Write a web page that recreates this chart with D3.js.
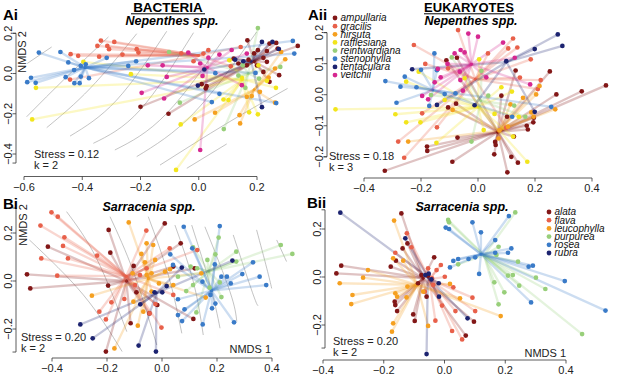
<!DOCTYPE html>
<html><head><meta charset="utf-8">
<script src="https://cdn.jsdelivr.net/npm/d3@7"></script>
<style>body{margin:0;background:#fff}svg{display:block}text{font-family:"Liberation Sans",Arial,Helvetica,sans-serif}</style>
</head><body>
<script>
// ---------- DATA ----------
const nepSpecies = ["ampullaria","gracilis","hirsuta","rafflesiana","reintwardiana","stenophylla","tentaculara","veitchii"];
const nepColors  = ["#821717","#e8604a","#f5a020","#f2e51c","#98cf7a","#3a7bc8","#1c2370","#d62890"];
const sarSpecies = ["alata","flava","leucophylla","purpurea","rosea","rubra"];
const sarColors  = ["#821717","#e8604a","#f5a020","#98cf7a","#3a7bc8","#1c2370"];
const statsAi = ["Stress = 0.12","k = 2"];
const statsAii = ["Stress = 0.18","k = 3"];
const statsBi = ["Stress = 0.20","k = 2"];
const statsBii = ["Stress = 0.20","k = 2"];
const ticksAx = [-0.6,-0.4,-0.2,0.0,0.2], ticksAy = [-0.4,-0.2,0.0,0.2];
const ticksAiix = [-0.4,-0.2,0.0,0.2,0.4], ticksAiiy = [-0.2,-0.1,0.0,0.1,0.2];
const ticksBx = [-0.4,-0.2,0.0,0.2,0.4], ticksBy = [-0.2,0.0,0.2];

// Ai: bacteria, Nepenthes (groups in nepSpecies order)
const pointsAi = [
 [[0.167,0.165],[0.243,0.149],[0.266,0.152],[0.271,0.124],[0.234,0.112],[0.203,0.116],[0.222,0.078],[0.171,0.069],[0.136,0.050],[0.165,0.041],[0.234,0.058],[0.222,0.008],[0.243,-0.041],[0.276,-0.008],[0.340,0.137],[0.19,0.10],[0.2,0.04],[0.01,-0.053],[0.027,-0.063],[0.024,-0.074],[-0.2,-0.165],[-0.104,-0.2],[0.12,0.074]],
 [[-0.336,0.164],[-0.348,0.137],[-0.314,0.137],[-0.29,0.157],[-0.308,0.121],[-0.342,0.084],[-0.414,0.088],[-0.44,0.096],[-0.262,0.094],[-0.213,0.121],[-0.207,0.104],[-0.442,-0.03],[-0.018,0.061],[0.016,0.099],[0.033,0.116],[0.144,0.132],[0.11,0.036],[-0.06,0.1]],
 [[0.283,0.107],[0.297,0.071],[0.262,0.025],[0.182,-0.112],[0.21,-0.091],[0.14,-0.207],[0.142,-0.248],[0.262,-0.145],[-0.014,-0.228],[0.056,-0.195],[0.165,-0.116],[0.24,-0.02]],
 [[-0.396,0.058],[-0.559,-0.071],[-0.572,-0.228],[-0.233,-0.003],[-0.062,-0.253],[-0.078,-0.479],[0.105,0.066],[0.085,-0.129],[0.102,-0.132],[0.173,-0.193],[0.203,-0.203],[0.265,-0.071],[0.148,-0.021],[0.234,-0.036],[0.205,0.041]],
 [[0.203,0.226],[-0.102,0.107],[-0.065,-0.145],[0.086,-0.276],[0.16,-0.071],[0.207,-0.025],[0.136,-0.01],[0.28,0.033],[0.151,0.041]],
 [[-0.549,0.104],[-0.475,0.107],[-0.448,0.055],[-0.405,0.038],[-0.388,0.046],[-0.316,0.078],[-0.428,0.017],[-0.405,-0.015],[-0.457,-0.018],[-0.427,-0.048],[-0.409,-0.048],[-0.576,-0.021],[-0.589,-0.043],[-0.56,-0.046],[-0.242,0.038],[-0.215,0.061],[-0.377,-0.023],[0.323,0.162],[0.328,0.099],[0.071,-0.101],[0.045,-0.142],[0.266,-0.147],[0.195,0.003],[0.057,0.002]],
 [[0.217,0.157],[0.253,0.157],[0.125,0.069],[0.019,0.02],[-0.003,-0.06],[0.217,-0.167],[0.275,0.122],[0.153,0.061]],
 [[-0.175,0.041],[-0.124,0.041],[-0.196,-0.096],[-0.119,-0.124],[-0.11,-0.017],[-0.036,0.104],[0.005,0.05],[0.033,0.079],[0.071,0.094],[0.113,0.117],[0.013,-0.012],[0.148,-0.058],[0.005,-0.38],[0.165,0.099]]
];
const centroidsAi = [[0.19,0.06],[0.0,0.09],[0.19,-0.08],[0.15,-0.03],[0.17,0.0],[-0.39,0.03],[0.18,0.06],[0.03,0.03]];
const contoursAi = [
 [[-0.589,0.05],[-0.505,0.132]],
 [[-0.591,-0.215],[-0.454,-0.017],[-0.31,0.182]],
 [[-0.522,-0.269],[-0.373,-0.074],[-0.213,0.198]],
 [[-0.442,-0.311],[-0.282,-0.132],[-0.11,0.21]],
 [[-0.362,-0.347],[-0.202,-0.182],[-0.018,0.203]],
 [[-0.288,-0.38],[-0.11,-0.198],[0.108,0.218]],
 [[-0.213,-0.413],[-0.018,-0.198],[0.199,0.207]],
 [[-0.133,-0.455],[0.096,-0.248],[0.305,-0.074]],
 [[-0.041,-0.471],[0.096,-0.35]]
];

// Aii: eukaryotes, Nepenthes
const pointsAii = [
 [[-0.327,-0.245],[-0.179,-0.167],[-0.178,-0.181],[-0.09,-0.216],[-0.072,-0.138],[-0.077,-0.029],[-0.105,-0.041],[0.057,-0.192],[0.06,-0.152],[0.062,-0.162],[0.103,-0.25],[0.117,-0.2],[0.14,-0.219],[0.126,-0.135],[0.102,-0.071],[0.082,-0.003],[0.132,0.078],[0.252,0.075],[0.275,0.001],[0.364,0.011],[0.449,0.03],[0.171,-0.1],[0.175,-0.112],[0.194,-0.089],[0.196,-0.074],[-0.111,0.111],[-0.074,0.119]],
 [[-0.07,0.208],[-0.225,0.16],[-0.185,0.099],[0.035,0.133],[0.123,0.181],[0.138,0.152],[0.106,0.149],[0.185,0.114],[0.22,0.047],[0.147,0.055],[0.21,0.018],[-0.196,-0.06],[-0.144,-0.105],[-0.259,-0.203],[-0.28,-0.151],[0.099,-0.106],[-0.105,0.085]],
 [[0.216,0.028],[0.204,0.001],[0.158,-0.01],[0.114,-0.031],[0.271,-0.047],[0.195,-0.071],[0.105,-0.103],[0.072,-0.141],[-0.245,-0.151],[-0.089,-0.049],[0.187,-0.057],[0.075,-0.115]],
 [[-0.5,-0.047],[-0.29,-0.063],[-0.252,-0.089],[-0.202,-0.089],[-0.146,-0.155],[-0.208,0.074],[-0.252,0.042],[0.004,0.114],[0.082,0.024],[0.119,0.01],[0.058,-0.062],[0.143,-0.071],[0.173,-0.216],[0.123,-0.135],[0.02,-0.114],[-0.117,-0.017],[-0.047,0.053]],
 [[-0.092,0.12],[-0.165,-0.001],[0.036,-0.003],[-0.023,-0.151],[0.127,-0.035],[0.166,-0.071],[0.012,0.077]],
 [[-0.325,0.044],[-0.272,0.026],[-0.257,0.058],[-0.153,0.133],[-0.144,0.079],[-0.079,0.004],[-0.171,-0.036],[-0.286,-0.026],[-0.216,0.024],[0.257,-0.039],[0.12,-0.071],[-0.117,0.002],[-0.2,0.08]],
 [[0.28,0.194],[0.296,0.157],[0.199,0.147],[0.099,0.108],[0.199,-0.055],[-0.231,0.082],[-0.144,-0.033],[-0.012,-0.034]],
 [[-0.034,0.197],[0,0.187],[0.088,0.168],[0.129,0.119],[0.183,0.033],[0.029,0.056],[-0.141,0.083],[-0.196,-0.004],[-0.082,0.133],[-0.061,0.144],[-0.047,0.136],[-0.107,0.099],[-0.131,0.056],[-0.152,0.04],[-0.062,0.047],[-0.064,0.074],[-0.053,0.013],[-0.175,-0.015]]
];
const centroidsAii = [[0.07,-0.12],[-0.01,0.05],[0.075,-0.115],[0.0,-0.04],[0.01,-0.02],[-0.158,0.015],[0.1,0.105],[-0.023,0.098]];

// Bi: bacteria, Sarracenia
const pointsBi = [
 [[-0.194,0.213],[-0.415,0.143],[-0.188,0.118],[-0.491,0.028],[-0.479,-0.031],[-0.196,-0.019],[-0.103,0.063],[-0.093,-0.047],[-0.114,-0.176],[-0.204,-0.294],[0.01,0.24],[0.068,0.157],[0.119,0.053],[0.114,-0.158],[-0.046,-0.135],[-0.017,-0.1],[0.041,0.06]],
 [[-0.402,0.286],[-0.379,0.268],[-0.442,0.231],[-0.355,0.182],[-0.36,0.146],[-0.342,0.094],[-0.439,0.094],[-0.381,0.022],[-0.236,0.106],[-0.184,-0.089],[-0.228,-0.128],[-0.204,-0.16],[-0.057,0.21],[-0.137,-0.075],[-0.024,-0.096],[-0.045,-0.135],[0.028,0.136],[0.128,0.129],[-0.002,-0.194],[-0.098,-0.017],[-0.08,0.025],[-0.056,0.053],[0.041,-0.058]],
 [[-0.121,0.244],[-0.075,0.113],[-0.255,-0.061],[-0.088,-0.186],[-0.173,-0.281],[-0.056,0.157],[-0.025,0.088],[-0.062,0.078],[-0.107,0.032],[-0.056,0.025],[-0.011,-0.01],[-0.038,-0.044],[-0.104,-0.086],[-0.068,-0.128],[0.029,0.049],[0.143,0.032],[0.159,-0.069],[-0.032,0.15],[0.011,0.039],[-0.038,0.032],[0.041,-0.017]],
 [[0.206,0.181],[0.113,0.14],[0.165,0.088],[0.104,0.06],[0.128,0.053],[0.194,0.111],[0.27,0.122],[0.27,0.081],[0.432,0.15],[0.474,0.113],[0.113,-0.017],[0.088,-0.042],[0.21,-0.006],[0.216,-0.067],[0.125,-0.131],[0.173,-0.028],[0.058,0.018]],
 [[0.079,0.226],[0.21,0.229],[0.192,0.069],[0.216,0.018],[0.236,0.018],[0.292,0.029],[0.331,0.078],[0.355,0.018],[0.379,-0.017],[0.176,-0.058],[0.182,-0.114],[0.194,-0.094],[0.262,-0.172],[0.148,-0.181],[0.073,-0.167],[0.058,-0.142],[0.058,-0.076],[0.082,-0.118],[0.04,0.067],[0.03,0.111],[0.147,-0.003],[0.25,-0.01],[0.11,0.136]],
 [[-0.297,-0.181],[-0.252,-0.239],[-0.085,-0.269],[-0.022,-0.294],[-0.027,-0.047],[0.001,-0.047],[-0.079,-0.097],[0.072,0.056],[0.256,0.085],[0.017,-0.021]]
];
const centroidsBi = [[-0.13,0.0],[-0.13,0.02],[-0.05,0.01],[0.17,0.04],[0.18,-0.04],[-0.02,-0.05]];
const contoursBi = [
 [[-0.482,0.171],[-0.286,-0.058],[-0.145,-0.294]],
 [[-0.347,0.289],[-0.238,0.094],[-0.128,-0.211]],
 [[-0.189,0.268],[-0.104,0.039],[-0.019,-0.267]],
 [[-0.05,0.268],[0.023,0.025],[0.072,-0.218]],
 [[0.047,0.233],[0.114,-0.003],[0.15,-0.225]],
 [[0.108,0.233],[0.175,-0.017],[0.211,-0.197]],
 [[0.156,0.226],[0.247,-0.044],[0.272,-0.169]],
 [[0.259,0.192],[0.332,-0.058],[0.35,-0.1]],
 [[0.344,0.213],[0.381,0.053],[0.399,-0.031]],
 [[0.417,0.171],[0.453,0.081]]
];

// Bii: eukaryotes, Sarracenia
const pointsBii = [
 [[-0.142,0.265],[-0.138,0.119],[-0.16,0.068],[-0.177,0.043],[-0.34,0.047],[-0.356,0.015],[-0.164,-0.103],[-0.162,-0.117],[-0.156,-0.142],[-0.103,-0.156],[-0.098,-0.183],[-0.034,0.082],[-0.059,-0.082],[-0.087,-0.026],[-0.076,0.008],[0.097,-0.186],[0.07,-0.244],[-0.054,0.006],[-0.122,0.14]],
 [[-0.162,0.101],[-0.109,0.124],[-0.124,0.182],[-0.012,0.05],[0.001,0.001],[0.029,-0.043],[-0.008,-0.119],[0.036,-0.142],[-0.03,-0.182],[0.025,-0.225],[0.058,-0.26],[0.092,-0.086],[0.101,-0.142],[-0.041,-0.006],[-0.037,-0.033],[-0.054,0.036],[-0.026,0.029],[-0.065,-0.061]],
 [[-0.166,0.235],[-0.169,0.078],[-0.136,0.068],[-0.252,0.029],[-0.268,-0.003],[-0.345,-0.026],[-0.303,-0.075],[-0.307,-0.113],[-0.162,-0.068],[-0.156,-0.082],[-0.125,-0.085],[-0.169,-0.193],[-0.173,-0.228],[-0.122,-0.04],[-0.054,-0.204],[0.018,-0.029],[0.051,-0.089],[0.185,-0.163],[-0.07,-0.061]],
 [[0.233,0.269],[0.012,0.238],[0.015,0.228],[0.178,0.126],[0.242,0.064],[0.209,0.006],[0.225,0.008],[0.301,-0.003],[0.332,-0.05],[0.246,-0.036],[0.197,-0.064],[0.178,-0.114],[0.164,-0.022],[0.453,-0.238],[0.045,0.053],[0.171,0.092]],
 [[0.004,0.206],[0.015,0.2],[0.092,0.228],[0.12,0.186],[0.212,0.254],[0.167,0.154],[0.22,0.119],[0.209,0.101],[0.167,0.101],[0.079,0.075],[0.101,0.082],[0.045,0.075],[0.029,0.067],[0.018,0.04],[0.114,0.013],[0.277,0.043],[0.291,0.047],[0.396,-0.017],[0.285,-0.106],[0.53,-0.14]],
 [[-0.343,0.268],[-0.129,0.161],[-0.063,0.008],[-0.052,0.014],[-0.043,-0.01],[-0.019,-0.026],[-0.018,-0.082],[0.076,-0.172],[-0.059,-0.321]]
];
const centroidsBii = [[-0.07,-0.005],[-0.05,-0.01],[-0.09,-0.033],[0.13,0.09],[0.12,0.095],[-0.055,0.0]];

// ---------- DRAW ----------
const svg = d3.select("body").append("svg").attr("width",617).attr("height",377);
const fmt = d3.format(".1f");

function panel(o){
  const g = svg.append("g");
  const x = d3.scaleLinear().domain(o.xd).range(o.xr);
  const y = d3.scaleLinear().domain(o.yd).range(o.yr);
  if(o.contours){
    const ln = d3.line().x(d=>x(d[0])).y(d=>y(d[1])).curve(d3.curveNatural);
    g.append("g").selectAll("path").data(o.contours).join("path")
      .attr("d",ln).attr("fill","none").attr("stroke","#9a9a9a").attr("stroke-width",0.6);
  }
  const segs = [];
  o.points.forEach((grp,i)=>grp.forEach(p=>segs.push({c:o.centroids[i],p:p,col:o.colors[i]})));
  g.append("g").selectAll("line").data(segs).join("line")
    .attr("x1",d=>x(d.c[0])).attr("y1",d=>y(d.c[1]))
    .attr("x2",d=>x(d.p[0])).attr("y2",d=>y(d.p[1]))
    .attr("stroke",d=>d.col).attr("stroke-opacity",0.26).attr("stroke-width",2.3).attr("stroke-linecap","round");
  const pts = [];
  o.points.forEach((grp,i)=>grp.forEach(p=>pts.push({p:p,col:o.colors[i]})));
  g.append("g").selectAll("circle").data(pts).join("circle")
    .attr("cx",d=>x(d.p[0])).attr("cy",d=>y(d.p[1])).attr("r",2.35).attr("fill",d=>d.col);
  const ax = g.append("g").attr("stroke","#333").attr("stroke-width",0.8);
  ax.append("line").attr("x1",x(o.xt[0])).attr("x2",x(o.xt[o.xt.length-1])).attr("y1",o.axY).attr("y2",o.axY);
  ax.selectAll("line.t").data(o.xt).join("line").attr("class","t")
    .attr("x1",d=>x(d)).attr("x2",d=>x(d)).attr("y1",o.axY).attr("y2",o.axY+3.5);
  g.selectAll("text.xt").data(o.xt).join("text").attr("class","xt")
    .attr("x",d=>x(d)).attr("y",o.axY+14).attr("text-anchor","middle").attr("font-size",11).attr("fill","#222").text(d=>fmt(d));
  const yEnds = o.yEnds;
  ax.append("line").attr("x1",o.ayX).attr("x2",o.ayX).attr("y1",y(yEnds[0])).attr("y2",y(yEnds[1]));
  ax.selectAll("line.u").data(o.yt.concat(yEnds)).join("line").attr("class","u")
    .attr("x1",o.ayX-3.5).attr("x2",o.ayX).attr("y1",d=>y(d)).attr("y2",d=>y(d));
  g.selectAll("text.yt").data(o.yt).join("text").attr("class","yt")
    .attr("transform",d=>`translate(${o.ayX-4.5},${y(d)}) rotate(-90)`)
    .attr("text-anchor","middle").attr("font-size",11).attr("fill","#222").text(d=>fmt(d));
  g.selectAll("text.st").data(o.stats).join("text").attr("class","st")
    .attr("x",o.statX).attr("y",(d,i)=>o.statY+i*10.5).attr("font-size",11).attr("fill","#222").text(d=>d);
  return {g,x,y};
}

panel({xd:[-0.6,0.2],xr:[24,257],yd:[-0.4,0.2],yr:[154,33.3],points:pointsAi,centroids:centroidsAi,colors:nepColors,
  contours:contoursAi,xt:ticksAx,axY:176.5,yt:ticksAy,ayX:16,yEnds:[-0.445,0.2],stats:statsAi,statX:34,statY:158});
panel({xd:[-0.4,0.4],xr:[364,592],yd:[-0.2,0.2],yr:[156.8,32.6],points:pointsAii,centroids:centroidsAii,colors:nepColors,
  xt:ticksAiix,axY:178,yt:ticksAiiy,ayX:327,yEnds:[-0.2,0.2],stats:statsAii,statX:329,statY:160});
panel({xd:[-0.4,0.4],xr:[52,272],yd:[-0.2,0.2],yr:[329,233],points:pointsBi,centroids:centroidsBi,colors:sarColors,
  contours:contoursBi,xt:ticksBx,axY:358,yt:ticksBy,ayX:16,yEnds:[-0.296,0.304],stats:statsBi,statX:21,statY:341});
panel({xd:[-0.4,0.4],xr:[323,566],yd:[-0.2,0.2],yr:[325,229],points:pointsBii,centroids:centroidsBii,colors:sarColors,
  xt:ticksBx,axY:360,yt:ticksBy,ayX:325,yEnds:[-0.296,0.28],stats:statsBii,statX:333,statY:345});

function t(x,y,s,attrs){const e=svg.append("text").attr("x",x).attr("y",y).text(s);for(const k in attrs)e.attr(k,attrs[k]);return e;}
svg.append("text").attr("transform","translate(25.5,52) rotate(-90)").attr("text-anchor","middle").attr("font-size",11).attr("fill","#222").text("NMDS 2");
svg.append("text").attr("transform","translate(26.5,225) rotate(-90)").attr("text-anchor","middle").attr("font-size",11).attr("fill","#222").text("NMDS 2");
t(271,353,"NMDS 1",{"text-anchor":"end","font-size":11,"fill":"#222"});
t(566,357,"NMDS 1",{"text-anchor":"end","font-size":11,"fill":"#222"});

t(3,20,"Ai",{"font-size":15,"font-weight":"bold"});
t(308,20,"Aii",{"font-size":15,"font-weight":"bold"});
t(3,209,"Bi",{"font-size":15,"font-weight":"bold"});
t(307,208,"Bii",{"font-size":15,"font-weight":"bold"});
t(168,12,"BACTERIA",{"text-anchor":"middle","font-size":13.5,"font-weight":"bold"});
svg.append("line").attr("x1",131).attr("x2",205).attr("y1",13.8).attr("y2",13.8).attr("stroke","#000").attr("stroke-width",1);
t(469,12,"EUKARYOTES",{"text-anchor":"middle","font-size":13,"font-weight":"bold"});
svg.append("line").attr("x1",424).attr("x2",514).attr("y1",13.8).attr("y2",13.8).attr("stroke","#000").attr("stroke-width",1);
t(172,24.5,"Nepenthes spp.",{"text-anchor":"middle","font-size":12.5,"font-weight":"bold","font-style":"italic"});
t(471,24.5,"Nepenthes spp.",{"text-anchor":"middle","font-size":12.5,"font-weight":"bold","font-style":"italic"});
t(149,211,"Sarracenia spp.",{"text-anchor":"middle","font-size":12.5,"font-weight":"bold","font-style":"italic"});
t(462,211,"Sarracenia spp.",{"text-anchor":"middle","font-size":12.5,"font-weight":"bold","font-style":"italic"});

function legend(x0,y0,dy,names,cols){
  const lg = svg.append("g");
  names.forEach((n,i)=>{
    lg.append("circle").attr("cx",x0).attr("cy",y0+i*dy).attr("r",2.4).attr("fill",cols[i]);
    lg.append("text").attr("x",x0+5.5).attr("y",y0+i*dy+3.4).attr("font-size",10).attr("font-style","italic").attr("fill","#111").text(n);
  });
}
legend(335,18,8.15,nepSpecies,nepColors);
legend(549,212,8.2,sarSpecies,sarColors);
</script>
</body></html>
